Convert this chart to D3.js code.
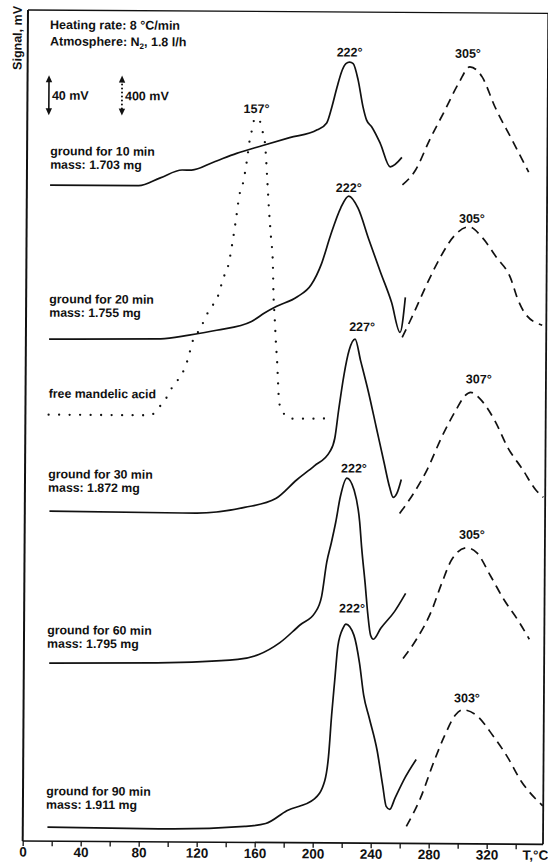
<!DOCTYPE html>
<html>
<head>
<meta charset="utf-8">
<script src="https://cdn.jsdelivr.net/npm/d3@7"></script>
<style>
  html, body { margin: 0; padding: 0; background: #fff; }
  svg { display: block; }
  text { font-family: "Liberation Sans", Arial, Helvetica, sans-serif; font-weight: bold; fill: #111; }
</style>
</head>
<body>
<svg id="chart" width="548" height="864"></svg>
<script>
// Thermal analysis traces of ground mandelic acid samples (signal in mV vs temperature in °C).
// Solid traces use the 40 mV scale bar; the free-acid dotted trace uses the 400 mV bar.

const sampleNames = ["ground for 10 min", "ground for 20 min", "ground for 30 min", "ground for 60 min", "ground for 90 min"];
const sampleMasses = ["mass: 1.703 mg", "mass: 1.755 mg", "mass: 1.872 mg", "mass: 1.795 mg", "mass: 1.911 mg"];
const acidName = "free mandelic acid";

// Low-temperature part of each trace (solid)
const t10 = [16, 77, 92, 107, 113.5, 128.5, 144.5, 162.5, 181, 200, 206.5, 210, 213.5, 217, 219.5, 222, 224.5, 228, 231.5, 234, 237.5, 243.5, 250.5, 258.5];
const s10 = [656, 656, 664, 672, 672, 680, 689, 697, 705, 713, 720, 736, 756, 773, 779.5, 781, 779.5, 763, 736, 723, 716.5, 700, 676.5, 686];
const t20 = [16, 93, 112.5, 131.5, 155.5, 165, 172.5, 187, 196.5, 203.5, 209.5, 216.5, 222, 228.5, 236, 244, 252, 258, 261.5];
const s20 = [502, 503, 507, 512, 521, 530, 536, 546, 558, 579, 607, 635, 647, 635, 604, 572, 541, 511, 546];
const t30 = [17, 118, 151.5, 173, 187.5, 199.5, 210, 213.5, 216, 219.5, 223, 227, 231, 236.5, 242, 247.5, 251.5, 254, 256.5, 259.5];
const s30 = [330, 329, 335, 344, 363, 377, 391, 405, 433, 468, 493, 504, 482, 451, 416, 381, 356, 346, 350, 364];
const t60 = [17.5, 92, 147.5, 162, 176.5, 190.5, 200.5, 205, 208.5, 211.5, 214.5, 217.5, 222, 227, 231, 232.5, 235, 237, 239, 241, 246, 255.5, 263];
const s60 = [178, 179, 183, 188, 200, 218, 230, 246, 281, 300, 321, 346, 365, 353, 321, 295, 260, 229, 208, 204, 215, 232, 250];
const t90 = [17, 100, 153, 167.5, 182, 201, 208, 210.5, 212.5, 214.5, 216.5, 220, 222, 227.5, 231.5, 234.5, 238.5, 244, 248, 250.5, 253, 256.5, 263.5, 271];
const s90 = [14, 13, 16, 19, 32, 44, 62, 86, 128, 163, 197, 215, 219, 208, 180, 148, 125, 93, 58, 37, 34, 45, 66, 84];

// High-temperature part of each trace (dashed)
const t10hot = [259, 268, 277.5, 288, 297.5, 305, 313.5, 322.5, 334.5, 346];
const s10hot = [658.5, 673.5, 703.5, 733.5, 761, 777, 767, 737, 704, 672];
const t20hot = [259.5, 266.5, 276, 285.5, 295, 305, 314.5, 324, 334, 339, 344, 356];
const s20hot = [506, 527.5, 558.5, 586.5, 608, 617, 606, 587, 566, 545, 531, 519];
const t30hot = [258.5, 268, 277.5, 287, 297, 303, 307, 313.5, 323.5, 333, 343, 352.5, 357.5];
const s30hot = [330, 350, 374.5, 406, 434, 448, 451.5, 445, 424, 396, 375, 354, 347];
const t60hot = [261.5, 271, 281, 288, 295, 305, 312, 321.5, 331, 341, 348.5];
const s60hot = [185, 205, 233, 261, 285, 296, 291, 268, 244, 223, 205];
const t90hot = [264.5, 274, 283.5, 290.5, 298, 303, 312, 324, 334, 343.5, 353.5, 358.5];
const s90hot = [17, 45, 83, 108, 129, 134, 129, 108, 87, 63, 45.5, 38.5];

// Free mandelic acid (dotted, 400 mV scale)
const tAcid = [16, 86, 93, 98, 102, 107.5, 112.5, 114.5, 119.5, 123, 126.5, 131.5, 136, 139.5, 142, 144.5, 146.5, 149, 151.5, 153.5, 155, 157, 160, 162, 164, 166, 167, 168.5, 170, 170.5, 171.5, 172.5, 173.5, 174, 175, 179, 182.5, 210];
const sAcid = [4265, 4265, 4360, 4460, 4570, 4670, 4865, 4985, 5120, 5220, 5330, 5430, 5645, 5785, 5995, 6245, 6465, 6590, 6805, 7025, 7125, 7245, 7225, 7125, 6995, 6575, 6345, 6065, 5785, 5505, 5245, 4985, 4775, 4625, 4395, 4275, 4240, 4245];

// Axis ticks
const xTicks = [0, 20, 40, 60, 80, 100, 120, 140, 160, 180, 200, 220, 240, 260, 280, 300, 320, 340];
const xTickLabels = [0, 40, 80, 120, 160, 200, 240, 280, 320];

const zip = (a, b) => a.map((v, i) => [v, b[i]]);
const lowT = [t10, t20, t30, t60, t90], lowS = [s10, s20, s30, s60, s90];
const hotT = [t10hot, t20hot, t30hot, t60hot, t90hot], hotS = [s10hot, s20hot, s30hot, s60hot, s90hot];

// ---- layout ----
const W = 548, H = 864;
const svg = d3.select("#chart");
svg.append("rect").attr("width", W).attr("height", H).attr("fill", "#fff");

// the whole plate sits very slightly turned
const g = svg.append("g").attr("transform", "rotate(0.365, 22.7, 841)");

const x = d3.scaleLinear().domain([0, 360]).range([22.7, 544.7]);
const y = d3.scaleLinear().domain([0, 831]).range([841, 10]);        // 40 mV bar scale
const yAcid = d3.scaleLinear().domain([0, 8310]).range([841, 10]);   // 400 mV bar scale
const frameRight = 543, frameTop = 10;

// frame
const frame = g.append("g").attr("stroke", "#111").attr("fill", "none");
frame.append("path").attr("d", `M${x(0)},${y(0)}V${frameTop}`).attr("stroke-width", 2);
frame.append("path").attr("d", `M${x(0)},${frameTop}H${frameRight}`).attr("stroke-width", 1.3);
frame.append("path").attr("d", `M${frameRight},${frameTop}V${y(0)}`).attr("stroke-width", 1.8);

// x axis
const axis = d3.axisBottom(x)
  .tickValues(xTicks)
  .tickSize(5).tickSizeOuter(0).tickPadding(1)
  .tickFormat(d => xTickLabels.includes(d) ? d : "");
const ax = g.append("g").attr("transform", `translate(0,${y(0)})`).call(axis);
ax.attr("font-family", null).attr("font-size", null);
ax.select(".domain").attr("stroke", "#111").attr("stroke-width", 1.7).attr("d", `M${x(0)},0H${frameRight}`);
ax.selectAll(".tick line").attr("stroke", "#111").attr("stroke-width", 1.3);
ax.selectAll(".tick text").attr("font-size", 13.5).attr("fill", "#111");
ax.append("text").attr("x", 535.5).attr("y", 6).attr("dy", "0.71em")
  .attr("text-anchor", "middle").attr("font-size", 13.5).text("T,°C");

// y axis title
g.append("text").attr("transform", "translate(16.5,38) rotate(-90)")
  .attr("text-anchor", "middle").attr("font-size", 12.5).text("Signal, mV");

// run conditions
g.append("text").attr("x", 44.8).attr("y", 28.8).attr("font-size", 12.5).text("Heating rate: 8 °C/min");
const atm = g.append("text").attr("x", 44.9).attr("y", 45.3).attr("font-size", 12.5);
atm.append("tspan").text("Atmosphere: N");
atm.append("tspan").attr("font-size", 8).attr("dy", 3).text("2");
atm.append("tspan").attr("dy", -3).text(", 1.8 l/h");

// scale bars
function scaleBar(tx, yScale, v0, v1, dotted, label) {
  const px = x(tx), yt = yScale(v1), yb = yScale(v0);
  const bar = g.append("g");
  bar.append("line").attr("x1", px).attr("x2", px).attr("y1", yt + 5).attr("y2", yb - 5)
    .attr("stroke", "#111").attr("stroke-width", dotted ? 2 : 1.6)
    .attr("stroke-dasharray", dotted ? "0,4" : null).attr("stroke-linecap", "round");
  bar.append("path").attr("d", `M${px},${yt}L${px - 3.2},${yt + 7}L${px + 3.2},${yt + 7}Z`).attr("fill", "#111");
  bar.append("path").attr("d", `M${px},${yb}L${px - 3.2},${yb - 7}L${px + 3.2},${yb - 7}Z`).attr("fill", "#111");
  bar.append("text").attr("x", px + 3).attr("y", (yt + yb) / 2 + 4.5).attr("font-size", 12.5).text(label);
}
scaleBar(14.8, y, 726, 766, false, "40 mV");
scaleBar(65.2, yAcid, 7260, 7660, true, "400 mV");

// traces
const lineLow = d3.line().x(d => x(d[0])).y(d => y(d[1])).curve(d3.curveMonotoneX);
const lineAcid = d3.line().x(d => x(d[0])).y(d => yAcid(d[1])).curve(d3.curveMonotoneX);

const traces = g.append("g").attr("fill", "none").attr("stroke", "#111")
  .attr("stroke-width", 1.7).attr("stroke-linejoin", "round");

lowT.forEach((t, i) => {
  traces.append("path").attr("d", lineLow(zip(t, lowS[i])));
  traces.append("path").attr("d", lineLow(zip(hotT[i], hotS[i]))).attr("stroke-dasharray", "9,6");
});
traces.append("path").attr("d", lineAcid(zip(tAcid, sAcid)))
  .attr("stroke-width", 2.3).attr("stroke-linecap", "round").attr("stroke-dasharray", "0,10.5");

// sample labels, lifted above the start of each trace
const labelLift = [30, 36, 33, 29, 32];
lowT.forEach((t, i) => {
  const base = y(lowS[i][0]);
  g.append("text").attr("x", x(16)).attr("y", base - labelLift[i]).attr("font-size", 12.3).text(sampleNames[i]);
  g.append("text").attr("x", x(16)).attr("y", base - labelLift[i] + 13.5).attr("font-size", 12.3).text(sampleMasses[i]);
});
g.append("text").attr("x", x(16)).attr("y", yAcid(sAcid[0]) - 17).attr("font-size", 12.3).text(acidName);

// peak temperature labels, taken from each trace's maximum
function peakLabel(t, s, yScale, gap, dx) {
  const i = d3.maxIndex(s);
  g.append("text").attr("x", x(t[i]) + dx).attr("y", yScale(s[i]) - gap)
    .attr("text-anchor", "middle").attr("font-size", 12.5).text(`${t[i]}°`);
}
const lowGap = [5.5, 4, 8, 5.5, 11.5], lowDx = [0, 0, 7, 7, 6];
const hotGap = [9, 4, 9, 9, 7.5], hotDx = [-2, 3, 8, 5, 4];
lowT.forEach((t, i) => {
  peakLabel(t, lowS[i], y, lowGap[i], lowDx[i]);
  peakLabel(hotT[i], hotS[i], y, hotGap[i], hotDx[i]);
});
peakLabel(tAcid, sAcid, yAcid, 5, 1.5);
</script>
</body>
</html>
